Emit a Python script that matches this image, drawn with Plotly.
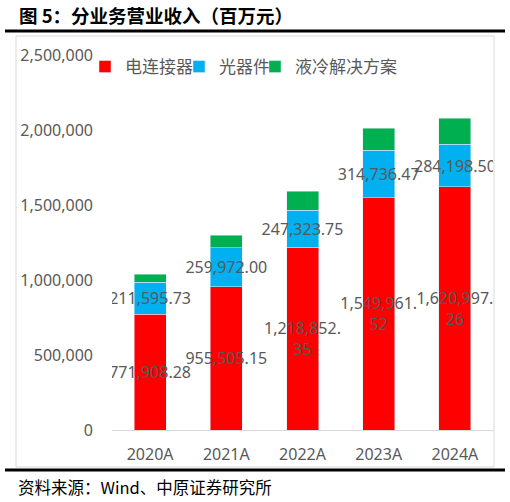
import plotly.graph_objects as go

years = ["2020A", "2021A", "2022A", "2023A", "2024A"]
connector = [771908.28, 955505.15, 1218852.35, 1549961.52, 1620997.26]
optical = [211595.73, 259972.00, 247323.75, 314736.47, 284198.50]
liquid = [55000, 82000, 125000, 148000, 172000]
names = ["电连接器", "光器件", "液冷解决方案"]
colors = ["#FF0000", "#00B0F0", "#00B050"]
ytick_vals = [0, 500000, 1000000, 1500000, 2000000, 2500000]


def fmt(v):
    s = f"{v:,.2f}"
    if len(s) > 10:
        i = s.index(".") + 1
        s = s[:i] + "<br>" + s[i:]
    return s


W, H = 510, 502
L, R, T, B = 112, 493, 55, 430


def px(x):
    return (x - L) / (R - L)


def py(y):
    return (B - y) / (B - T)


NUM = "'Noto Sans', sans-serif"
CJK = "'Noto Sans CJK SC', sans-serif"
GRAY = "#595959"

fig = go.Figure()
label_font = dict(family=NUM, size=16, color=GRAY)
fig.add_trace(go.Bar(x=years, y=connector, name=names[0], marker_color=colors[0],
                     text=[fmt(v) for v in connector], textposition="inside",
                     insidetextanchor="middle", textangle=0, constraintext="none",
                     textfont=label_font, legend="legend"))
fig.add_trace(go.Bar(x=years, y=optical, name=names[1], marker_color=colors[1],
                     text=[fmt(v) for v in optical], textposition="inside",
                     insidetextanchor="middle", textangle=0, constraintext="none",
                     textfont=label_font, legend="legend2"))
fig.add_trace(go.Bar(x=years, y=liquid, name=names[2], marker_color=colors[2],
                     legend="legend3"))

shapes = [
    dict(type="line", xref="paper", yref="paper", x0=px(5), x1=px(505), y0=py(31), y1=py(31),
         line=dict(color="black", width=3)),
    dict(type="line", xref="paper", yref="paper", x0=px(5), x1=px(505), y0=py(470), y1=py(470),
         line=dict(color="black", width=3)),
    dict(type="rect", xref="paper", yref="paper", x0=px(16), x1=px(494), y0=py(467), y1=py(36),
         line=dict(color="#D9D9D9", width=1), layer="below"),
]

annotations = [
    dict(text="<b>图 5：分业务营业收入（百万元）</b>", xref="paper", yref="paper",
         x=px(17), y=py(15), xanchor="left", yanchor="middle", showarrow=False,
         font=dict(family=CJK, size=18.5, color="black")),
    dict(text="资料来源：Wind、中原证券研究所", xref="paper", yref="paper",
         x=px(16), y=py(487), xanchor="left", yanchor="middle", showarrow=False,
         font=dict(family=CJK, size=16.5, color="black")),
]

leg_font = dict(family=CJK, size=17, color=GRAY)


def leg(x_left):
    return dict(orientation="h", x=px(x_left), y=py(49), xanchor="left", yanchor="top",
                font=leg_font, bgcolor="rgba(0,0,0,0)", itemclick=False,
                itemdoubleclick=False)


fig.update_layout(
    width=W, height=H,
    margin=dict(l=L, r=W - R, t=T, b=H - B),
    barmode="stack", bargap=0.58,
    paper_bgcolor="white", plot_bgcolor="white",
    showlegend=True,
    legend=leg(85), legend2=leg(179), legend3=leg(255),
    xaxis=dict(showline=True, linecolor="#D9D9D9", linewidth=1, ticks="",
               tickfont=dict(family=NUM, size=16, color=GRAY), ticklabelstandoff=10),
    yaxis=dict(range=[0, 2500000], tickvals=ytick_vals, tickformat=",d",
               showgrid=False, zeroline=False, showline=False,
               tickfont=dict(family=NUM, size=16, color=GRAY), ticklabelstandoff=18),
    shapes=shapes, annotations=annotations,
    font=dict(family=NUM),
)

fig.write_html("out.html", config={"displayModeBar": False},
               post_script="document.body.style.margin='0';document.body.style.overflow='hidden';")
